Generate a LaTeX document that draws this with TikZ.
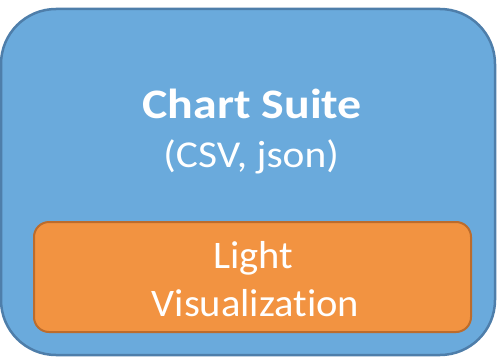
\documentclass[tikz,border=0pt]{standalone}
\usepackage{fontspec}
\setmainfont{Carlito}[Ligatures=NoCommon]
\definecolor{bluefill}{HTML}{6AAADC}
\definecolor{blueline}{HTML}{4E7EAA}
\definecolor{orfill}{HTML}{F29341}
\definecolor{orline}{HTML}{BC6C2C}
\tikzset{
  outerbox/.style={draw=blueline, fill=bluefill, line width=2.5pt, rounded corners=55pt, minimum width=494pt, minimum height=346pt, inner sep=0pt},
  innerbox/.style={draw=orline, fill=orfill, line width=2pt, rounded corners=15pt, minimum width=437pt, minimum height=110pt, inner sep=0pt},
  lbl/.style={text=white, anchor=base, inner sep=0pt}
}
\begin{document}
\begin{tikzpicture}[x=1pt,y=1pt]
\useasboundingbox (0,0) rectangle (497,357);
\node[outerbox] (suite) at (248,175) {};
\node[innerbox] (light) at (252.5,80) {};
\node[lbl, font=\fontsize{42}{50}\selectfont\bfseries] (t1) at (252.3,239) {\scalebox{1.14}[1]{Chart Suite}};
\node[lbl, font=\fontsize{38}{46}\selectfont] (t2) at (251.2,189.5) {\scalebox{1.09}[1]{(CSV, json)}};
\node[lbl, font=\fontsize{39}{46}\selectfont] (t3) at (253.5,89) {\scalebox{1.04}[1]{Light}};
\node[lbl, font=\fontsize{39}{46}\selectfont] (t4) at (255.5,41) {\scalebox{1.04}[1]{Visualization}};
\end{tikzpicture}
\end{document}
